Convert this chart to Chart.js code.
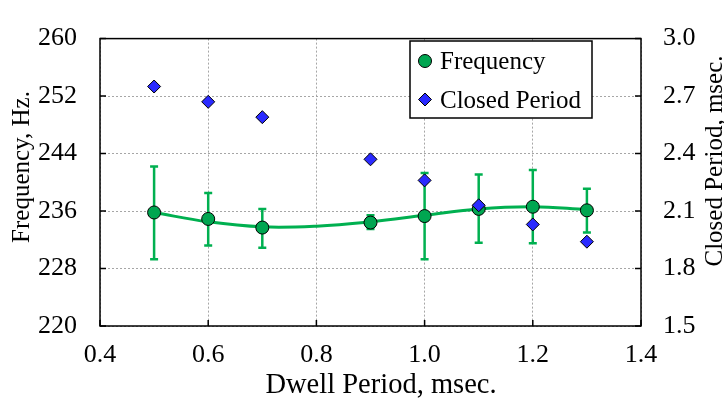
<!DOCTYPE html>
<html>
<head>
<meta charset="utf-8">
<script src="https://cdn.jsdelivr.net/npm/chart.js@4.4.1/dist/chart.umd.min.js"></script>
<style>
  html, body { margin: 0; padding: 0; background: #fff; }
  #wrap { width: 724px; height: 405px; }
</style>
</head>
<body>
<div id="wrap"><canvas id="chart"></canvas></div>
<script>
// Measured points
const dwell = [0.5, 0.6, 0.7, 0.9, 1.0, 1.1, 1.2, 1.3];
const freq = [235.8, 234.9, 233.7, 234.4, 235.3, 236.3, 236.6, 236.1];
const freqHigh = [242.2, 238.5, 236.3, 235.4, 241.3, 241.1, 241.7, 239.1];
const freqLow = [229.3, 231.2, 230.9, 233.5, 229.3, 231.6, 231.5, 233.0];
const closedPeriod = [2.75, 2.67, 2.59, 2.37, 2.26, 2.13, 2.03, 1.94];

// Smooth fit through the frequency data
const fitX = [0.5, 0.6, 0.7, 0.8, 0.9, 1.0, 1.1, 1.2, 1.3];
const fitY = [235.8, 234.5, 233.8, 233.9, 234.5, 235.4, 236.3, 236.6, 236.2];

const FONT = 'Liberation Serif';
const GREEN = '#00b050';
const GREEN_FILL = '#00a651';
const BLUE = '#2a2aff';

const pts = (xs, ys) => xs.map((x, i) => ({ x: x, y: ys[i] }));

// error bars under the markers
const errorBars = {
  id: 'errorBars',
  beforeDatasetsDraw(chart) {
    const ctx = chart.ctx;
    const xs = chart.scales.x, ys = chart.scales.y;
    ctx.save();
    ctx.strokeStyle = GREEN;
    ctx.lineWidth = 2.5;
    dwell.forEach((d, i) => {
      const x = xs.getPixelForValue(d);
      const hi = ys.getPixelForValue(freqHigh[i]);
      const lo = ys.getPixelForValue(freqLow[i]);
      ctx.beginPath();
      ctx.moveTo(x, hi); ctx.lineTo(x, lo);
      ctx.moveTo(x - 4, hi); ctx.lineTo(x + 4, hi);
      ctx.moveTo(x - 4, lo); ctx.lineTo(x + 4, lo);
      ctx.stroke();
    });
    ctx.restore();
  }
};

// black frame with short inward tick marks
const frame = {
  id: 'frame',
  beforeDatasetsDraw(chart) {
    const ctx = chart.ctx;
    const a = chart.chartArea;
    ctx.save();
    ctx.strokeStyle = '#000';
    ctx.lineWidth = 1.5;
    ctx.strokeRect(a.left, a.top, a.right - a.left, a.bottom - a.top);
    ctx.beginPath();
    chart.scales.x.ticks.forEach(t => {
      const x = chart.scales.x.getPixelForValue(t.value);
      ctx.moveTo(x, a.bottom); ctx.lineTo(x, a.bottom - 6);
    });
    chart.scales.y.ticks.forEach(t => {
      const y = chart.scales.y.getPixelForValue(t.value);
      ctx.moveTo(a.left, y); ctx.lineTo(a.left + 6, y);
    });
    chart.scales.y2.ticks.forEach(t => {
      const y = chart.scales.y2.getPixelForValue(t.value);
      ctx.moveTo(a.right, y); ctx.lineTo(a.right - 6, y);
    });
    ctx.stroke();
    ctx.restore();
  }
};

// axis titles and the boxed legend
const labels = {
  id: 'labels',
  afterDraw(chart) {
    const ctx = chart.ctx;
    ctx.save();
    ctx.fillStyle = '#000';
    ctx.textAlign = 'center';
    ctx.textBaseline = 'alphabetic';
    ctx.font = '28.5px "' + FONT + '"';
    ctx.fillText('Dwell Period, msec.', 381, 393);

    ctx.font = '25px "' + FONT + '"';
    ctx.save();
    ctx.translate(29, 167);
    ctx.rotate(-Math.PI / 2);
    ctx.fillText('Frequency, Hz.', 0, 0);
    ctx.restore();

    ctx.save();
    ctx.translate(722, 161);
    ctx.rotate(-Math.PI / 2);
    ctx.fillText('Closed Period, msec.', 0, 0);
    ctx.restore();

    // legend
    ctx.fillStyle = '#fff';
    ctx.fillRect(410, 41, 182, 77);
    ctx.strokeStyle = '#000';
    ctx.lineWidth = 1.5;
    ctx.strokeRect(410, 41, 182, 77);

    ctx.lineWidth = 1;
    ctx.fillStyle = GREEN_FILL;
    ctx.beginPath();
    ctx.arc(425, 61, 6.5, 0, Math.PI * 2);
    ctx.fill(); ctx.stroke();

    ctx.fillStyle = BLUE;
    ctx.beginPath();
    ctx.moveTo(425, 93); ctx.lineTo(431.5, 99.5); ctx.lineTo(425, 106); ctx.lineTo(418.5, 99.5);
    ctx.closePath();
    ctx.fill(); ctx.stroke();

    ctx.fillStyle = '#000';
    ctx.textAlign = 'left';
    ctx.fillText('Frequency', 440, 69);
    ctx.fillText('Closed Period', 440, 108);
    ctx.restore();
  }
};

const tickFont = { family: FONT, size: 26 };

new Chart(document.getElementById('chart'), {
  type: 'scatter',
  data: {
    datasets: [
      {
        label: 'Closed Period',
        data: pts(dwell, closedPeriod),
        yAxisID: 'y2',
        pointStyle: 'rectRot',
        pointRadius: 6.5,
        pointBackgroundColor: BLUE,
        pointBorderColor: '#000',
        pointBorderWidth: 1
      },
      {
        label: 'Frequency',
        data: pts(dwell, freq),
        yAxisID: 'y',
        pointStyle: 'circle',
        pointRadius: 6.5,
        pointBackgroundColor: GREEN_FILL,
        pointBorderColor: '#000',
        pointBorderWidth: 1
      },
      {
        label: 'fit',
        data: pts(fitX, fitY),
        yAxisID: 'y',
        showLine: true,
        tension: 0.4,
        borderColor: GREEN,
        borderWidth: 3,
        pointRadius: 0
      }
    ]
  },
  options: {
    responsive: true,
    maintainAspectRatio: false,
    animation: false,
    layout: { padding: { top: 19, left: 0, right: 0, bottom: 0 } },
    plugins: { legend: { display: false }, tooltip: { enabled: false } },
    scales: {
      x: {
        type: 'linear',
        min: 0.4, max: 1.4,
        afterFit: s => { s.height = 79; },
        ticks: { stepSize: 0.2, font: tickFont, color: '#000', padding: 14,
                 callback: v => v.toFixed(1) },
        grid: { color: '#a6a6a6', drawTicks: false },
        border: { display: false, dash: [2, 2] }
      },
      y: {
        position: 'left',
        min: 220, max: 260,
        afterFit: s => { s.width = 100; },
        ticks: { stepSize: 8, font: tickFont, color: '#000', padding: 23 },
        grid: { color: '#a6a6a6', drawTicks: false },
        border: { display: false, dash: [2, 2] }
      },
      y2: {
        position: 'right',
        min: 1.5, max: 3.0,
        afterFit: s => { s.width = 83; },
        ticks: { stepSize: 0.3, font: tickFont, color: '#000', padding: 22,
                 callback: v => v.toFixed(1) },
        grid: { display: false, drawTicks: false },
        border: { display: false }
      }
    }
  },
  plugins: [errorBars, frame, labels]
});
</script>
</body>
</html>
